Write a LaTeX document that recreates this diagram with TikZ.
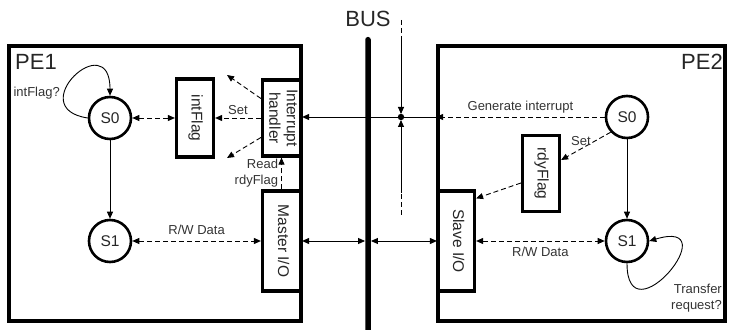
\documentclass[tikz,border=0pt]{standalone}
\usepackage{fontspec}
\setmainfont{Liberation Sans}
\usepackage{graphicx}
\usetikzlibrary{arrows.meta, positioning, calc}
\tikzset{
  % States and blocks
  state/.style={circle, draw=black, line width=2.6pt, minimum size=42pt, inner sep=0pt, fill=white, text=black!85, font=\fontsize{15.5}{17.5}\selectfont},
  vblock/.style={rectangle, draw=black, line width=3.2pt, fill=white, inner sep=0pt, text=black!85, font=\fontsize{15.5}{17.5}\selectfont},
  pebox/.style={rectangle, draw=black, line width=3.8pt, inner sep=0pt},
  lbl/.style={font=\fontsize{13}{16}\selectfont, text=black!80, inner sep=1pt},
  biglbl/.style={font=\fontsize{22}{24}\selectfont, text=black!85, inner sep=0pt},
  % Connectors
  arrow/.style={-{Triangle[length=7pt, width=6pt]}, line width=0.9pt},
  dasharrow/.style={arrow, dash pattern=on 5pt off 3pt},
  bothways/.style={{Triangle[length=7pt, width=6pt]}-{Triangle[length=7pt, width=6pt]}, line width=0.9pt},
  dashboth/.style={bothways, dash pattern=on 5pt off 3pt},
}
\newcommand{\vlabel}[1]{\rotatebox[origin=c]{-90}{\begin{tabular}{@{}c@{}}#1\end{tabular}}}

\begin{document}
\begin{tikzpicture}[x=1pt, y=1pt]
  \useasboundingbox (0,0) rectangle (730,329);

  % Processing elements
  \node[pebox, minimum width=292pt, minimum height=275pt] (pe1) at (155,145.5) {};
  \node[pebox, minimum width=287pt, minimum height=275pt] (pe2) at (581.5,145.5) {};
  \node[biglbl, anchor=west] (pe1lbl) at (15,267) {PE1};
  \node[biglbl, anchor=east] (pe2lbl) at (723,267) {PE2};

  % Bus
  \node[rectangle, fill=black, minimum width=5.5pt, minimum height=302pt, inner sep=0pt, rounded corners=2.5pt] (bus) at (368,141) {};
  \node[biglbl] (buslbl) at (368,310.5) {BUS};

  % PE1 states and blocks
  \node[state] (s0a) at (110,211) {S0};
  \node[state, below=78.4pt of s0a] (s1a) {S1};
  \node[vblock, minimum width=37pt, minimum height=78pt] (intflag) at (195,211) {\vlabel{intFlag}};
  \node[vblock, minimum width=38pt, minimum height=76pt] (handler) at (281.5,211) {\vlabel{Interrupt\\handler}};
  \node[vblock, minimum width=38pt, minimum height=100pt] (master) at (281.5,88) {\vlabel{Master I/O}};

  % PE2 states and blocks
  \node[state] (s0b) at (627,212) {S0};
  \node[state, below=79.4pt of s0b] (s1b) {S1};
  \node[vblock, minimum width=37pt, minimum height=76pt] (rdyflag) at (541,155.5) {\vlabel{rdyFlag}};
  \node[vblock, minimum width=36pt, minimum height=100pt] (slave) at (456.5,88) {\vlabel{Slave I/O}};

  % PE1 connectors
  \draw[arrow] (s0a) -- (s1a);
  \draw[arrow] (s0a.west) .. controls +(-66,10) and +(0,70) .. (s0a.north);
  \node[lbl, anchor=east] (intq) at (61,236) {intFlag?};
  \draw[dashboth] (s0a) -- (intflag);
  \draw[dasharrow] (handler) -- node[lbl, above=2pt] {Set} (intflag);
  \coordinate (setup) at (227,254);
  \coordinate (setdown) at (227,171);
  \draw[dasharrow] ([yshift=19.5pt]handler.west) -- (setup);
  \draw[dasharrow] ([yshift=-19.5pt]handler.west) -- (setdown);
  \draw[dasharrow] (master.north) -- node[lbl, midway, left=2pt, align=right] {Read\\rdyFlag} (handler.south);
  \draw[dashboth] (s1a) -- node[lbl, above=5pt] {R/W Data} (master);

  % Bus connections
  \draw[bothways] (master) -- (master -| bus.west);
  \draw[bothways] (slave -| bus.east) -- (slave);
  \coordinate (irqin) at (pe2.west |- s0b);
  \draw[dasharrow] (s0b) -- node[lbl, above=2pt] {Generate interrupt} (irqin);
  \draw[arrow] (irqin) -- (irqin -| handler.east);

  % Interrupt tap
  \coordinate (tap) at (401,212);
  \coordinate (taptop) at (401,309);
  \coordinate (taptopend) at (401,292);
  \coordinate (tapbot) at (401,114);
  \coordinate (tapbotend) at (401,136);
  \fill (tap) circle (3.2pt);
  \draw[line width=0.9pt, dash pattern=on 5pt off 3pt] (taptop) -- (taptopend);
  \draw[arrow] (taptopend) -- ([yshift=3pt]tap);
  \draw[line width=0.9pt, dash pattern=on 5pt off 3pt] (tapbot) -- (tapbotend);
  \draw[arrow] (tapbotend) -- ([yshift=-3pt]tap);

  % PE2 connectors
  \draw[arrow] (s0b) -- (s1b);
  \draw[dasharrow] (s0b.223) -- node[lbl, pos=0.6, above=2pt] {Set} ([yshift=13.5pt]rdyflag.east);
  \draw[dasharrow] ([yshift=-9.5pt]rdyflag.west) -- ([yshift=-9pt]slave.north east);
  \draw[dashboth] (slave) -- node[lbl, below=5pt] {R/W Data} (s1b);
  \draw[arrow] (s1b.south) .. controls +(0,-78) and +(80,24) .. (s1b.east);
  \node[lbl, anchor=east, align=right] (xferq) at (723,30.5) {Transfer\\request?};
\end{tikzpicture}
\end{document}
